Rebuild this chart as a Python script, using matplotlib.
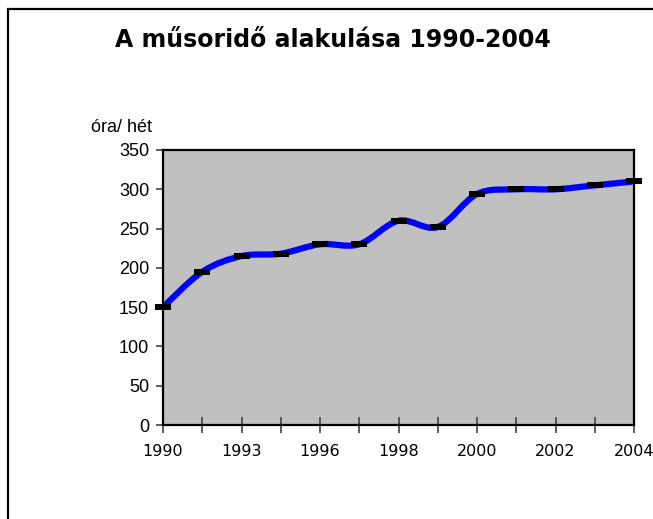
#!/usr/bin/env python3

import numpy as np
import matplotlib
matplotlib.use("Agg")
import matplotlib.pyplot as plt
from matplotlib.path import Path
from matplotlib.patches import PathPatch, Rectangle

# DATA:
#---------------------------------------------------------------------------------------------------------
years = ["1990", "1992", "1993", "1995", "1996", "1997", "1998",
         "1999", "2000", "2001", "2002", "2003", "2004"]
hours = [150, 195, 215, 218, 230, 230, 260, 252, 294, 300, 300, 305, 310]  # óra/hét
y_ticks = [0, 50, 100, 150, 200, 250, 300, 350]

title = "A műsoridő alakulása 1990-2004"
y_unit = "óra/ hét"

plt.rcParams['font.family'] = ['Liberation Sans', 'DejaVu Sans']

fig = plt.figure(figsize=(6.53, 5.19), dpi=100)
ax = fig.add_axes([163 / 653, 1 - 425 / 519, 471 / 653, 275 / 519])
ax.set_facecolor("#c0c0c0")

x = np.arange(len(hours))
y = np.array(hours, dtype=float)

# Smoothed line (Excel style bezier between the points):
px = np.concatenate([[x[0]], x, [x[-1]]])
py = np.concatenate([[y[0]], y, [y[-1]]])
verts = [(x[0], y[0])]
codes = [Path.MOVETO]
for i in range(1, len(px) - 2):
    c1 = (px[i] + (px[i + 1] - px[i - 1]) / 6, py[i] + (py[i + 1] - py[i - 1]) / 6)
    c2 = (px[i + 1] - (px[i + 2] - px[i]) / 6, py[i + 1] - (py[i + 2] - py[i]) / 6)
    verts += [c1, c2, (px[i + 1], py[i + 1])]
    codes += [Path.CURVE4] * 3
ax.add_patch(PathPatch(Path(verts, codes), facecolor="none", edgecolor="#0000ff",
                       lw=4.5, capstyle="round", joinstyle="round", zorder=3))

# Black dash markers on the points:
dash = [(-1.3, -0.45), (1.3, -0.45), (1.3, 0.45), (-1.3, 0.45), (-1.3, -0.45)]
ax.plot(x, y, ls="none", marker=dash, ms=12, color="black", mec="black",
        mew=0, zorder=4, clip_on=False)

ax.set_xlim(0, len(hours) - 1)
ax.set_ylim(0, 350)
ax.set_yticks(y_ticks)
ax.set_xticks(x)
ax.set_xticklabels([yr if i % 2 == 0 else "" for i, yr in enumerate(years)],
                   fontfamily="DejaVu Sans")

for side in ["left", "top", "right", "bottom"]:
    ax.spines[side].set_linewidth(1.6)
    ax.spines[side].set_color("black")

ax.tick_params(axis="y", direction="out", length=5, width=1.2, color="#444444",
               labelsize=13, pad=5)
ax.tick_params(axis="x", direction="inout", length=11, width=1.2, color="#444444",
               labelsize=11.5, pad=8)

fig.text(333 / 653, 1 - 40 / 519, title, ha="center", va="center",
         fontsize=17, fontweight="bold", fontfamily="DejaVu Sans")
fig.text(152 / 653, 1 - 127 / 519, y_unit, ha="right", va="center", fontsize=13)

# Outer chart frame:
fig.patches.append(Rectangle((8 / 653, -0.1), 1.2, 1.1 - 8.5 / 519, transform=fig.transFigure,
                             fill=False, lw=1.6, edgecolor="black"))

fig.savefig("out.png", dpi=100)
